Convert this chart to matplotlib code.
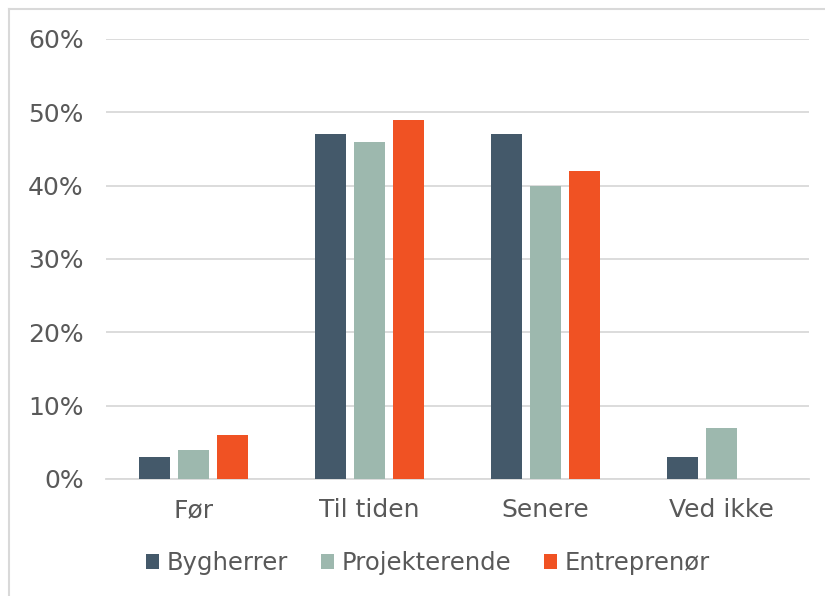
import matplotlib
matplotlib.use("Agg")
import matplotlib.pyplot as plt
from matplotlib.lines import Line2D
import numpy as np

categories = ["Før", "Til tiden", "Senere", "Ved ikke"]
series_names = ["Bygherrer", "Projekterende", "Entreprenør"]
bygherrer = [3, 47, 47, 3]
projekterende = [4, 46, 40, 7]
entreprenor = [6, 49, 42, 0]
colors = ["#44596a", "#9db8ae", "#f05223"]
yticks = [0, 10, 20, 30, 40, 50, 60]

text_color = "#595959"
plt.rcParams["font.family"] = ["DejaVu Sans"]

W, H = 825, 596
fig = plt.figure(figsize=(W / 100, H / 100), dpi=100)
ax = fig.add_axes([106 / W, 1 - 479 / H, 703 / W, 440 / H])

x = np.arange(len(categories))
width = 0.176
step = 0.222
for i, (vals, name) in enumerate(zip([bygherrer, projekterende, entreprenor], series_names)):
    ax.bar(x + (i - 1) * step, vals, width=width, color=colors[i], label=name, zorder=3)

ax.set_xlim(-0.5, len(categories) - 0.5)
ax.set_ylim(0, 60)
ax.set_yticks(yticks)
ax.set_yticklabels([f"{v}%" for v in yticks])
ax.set_xticks(x)
ax.set_xticklabels(categories)
ax.grid(axis="y", color="#d9d9d9", linewidth=1.3, zorder=0)
for s in ["top", "right", "left"]:
    ax.spines[s].set_visible(False)
ax.spines["bottom"].set_color("#d9d9d9")
ax.spines["bottom"].set_linewidth(1.3)
ax.tick_params(axis="both", length=0, labelsize=18, labelcolor=text_color)
ax.tick_params(axis="y", pad=16)
ax.tick_params(axis="x", pad=14)

leg = fig.legend(loc="center", bbox_to_anchor=(428 / W, 1 - 563 / H), ncol=3,
                 frameon=False, fontsize=17.5, handlelength=0.55, handleheight=0.55,
                 handletextpad=0.3, columnspacing=1.35)
for t in leg.get_texts():
    t.set_color(text_color)

# thin frame on left and top, as in the source image
fig.add_artist(Line2D([9 / W, 9 / W], [0, 1 - 9 / H], transform=fig.transFigure,
                      color="#d9d9d9", linewidth=1.5))
fig.add_artist(Line2D([9 / W, 1], [1 - 9 / H, 1 - 9 / H], transform=fig.transFigure,
                      color="#d9d9d9", linewidth=1.5))

fig.savefig("out.png", dpi=100)
